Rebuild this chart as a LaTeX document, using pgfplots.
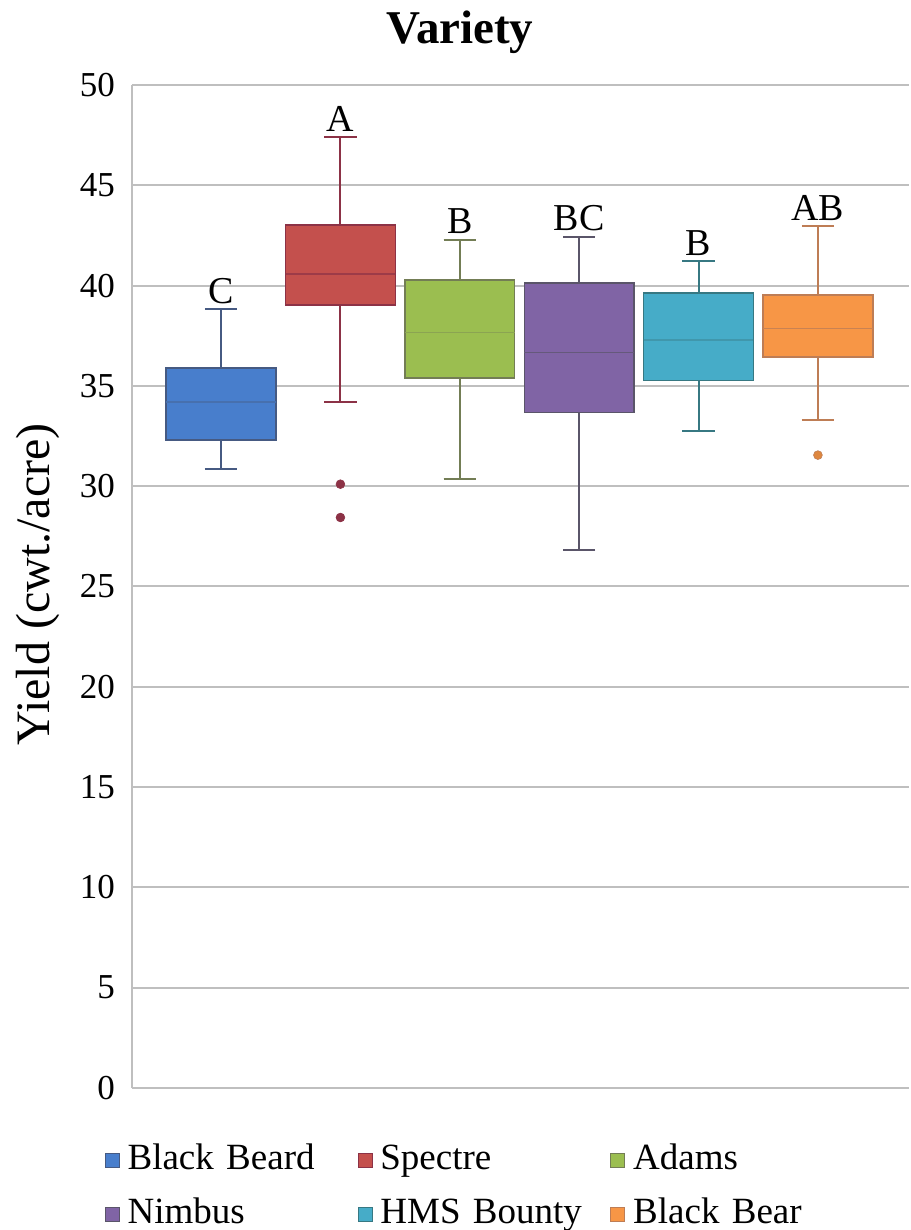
\documentclass[border=0pt]{standalone}
\usepackage{fontspec}
\setmainfont{Liberation Serif}
\usepackage{pgfplots}
\pgfplotsset{compat=1.18}
\usepgfplotslibrary{statistics}
\definecolor{cBB}{RGB}{72,126,204}\definecolor{cBBd}{RGB}{70,90,130}
\definecolor{cSP}{RGB}{196,80,77}\definecolor{cSPd}{RGB}{140,50,70}
\definecolor{cAD}{RGB}{155,190,80}\definecolor{cADd}{RGB}{115,125,85}
\definecolor{cNI}{RGB}{128,100,165}\definecolor{cNId}{RGB}{90,85,105}
\definecolor{cHM}{RGB}{70,172,200}\definecolor{cHMd}{RGB}{55,120,130}
\definecolor{cBR}{RGB}{247,150,70}\definecolor{cBRd}{RGB}{190,125,85}
\newcommand{\labfont}{\fontsize{19}{22}\selectfont}
\begin{document}
\begin{tikzpicture}
\begin{axis}[
  scale only axis, width=388.5pt, height=501.5pt,
  xmin=0.254, xmax=6.763, ymin=0, ymax=50,
  ytick={0,5,...,50}, xtick=\empty,
  axis lines*=left,
  axis line style={draw=gray!50, line width=1pt},
  ymajorgrids, grid style={draw=gray!50, line width=1pt},
  major tick length=0pt,
  tick label style={font=\fontsize{17.5}{20}\selectfont},
  yticklabel style={xshift=-5pt},
  /pgf/number format/assume math mode=true,
  title={Variety},
  title style={font=\bfseries\fontsize{23.5}{26}\selectfont, at={(0.422,1.029)}, anchor=base, inner sep=0pt},
  ylabel={Yield (cwt./acre)},
  ylabel style={font=\fontsize{24}{28}\selectfont, at={(-0.121,0.502)}, anchor=center, inner sep=0pt},
  legend columns=3,
  legend image code/.code={\draw[#1] (0pt,-3.5pt) rectangle (7pt,3.5pt);},
  legend style={at={(-0.035,-0.057)}, anchor=north west, draw=none, fill=none,
    inner sep=0pt, outer sep=0pt, row sep=12pt, column sep=0pt,
    font=\fontsize{18.5}{21}\selectfont,
    nodes={text width=111pt, inner xsep=4pt, inner ysep=0pt, text height=12pt, text depth=3pt, align=left}},
  boxplot/draw direction=y,
]
\addlegendimage{fill=cBB, draw=cBBd}\addlegendentry{Black Beard}
\addlegendimage{fill=cSP, draw=cSPd}\addlegendentry{Spectre}
\addlegendimage{fill=cAD, draw=cADd}\addlegendentry{Adams}
\addlegendimage{fill=cNI, draw=cNId}\addlegendentry{Nimbus}
\addlegendimage{fill=cHM, draw=cHMd}\addlegendentry{HMS Bounty}
\addlegendimage{fill=cBR, draw=cBRd}\addlegendentry{Black Bear}

\addplot+[forget plot, solid, fill=cBB, draw=cBBd, line width=0.75pt,
  boxplot/every whisker/.style={draw=cBBd, line width=1pt},
  boxplot/every median/.style={draw=cBBd!40!cBB, line width=0.6pt},
  boxplot prepared={draw position=1, box extend=0.92, whisker extend=0.27,
  lower whisker=30.87, lower quartile=32.3, median=34.2, upper quartile=35.88, upper whisker=38.82}]
  coordinates {};
\addplot+[forget plot, solid, fill=cSP, draw=cSPd, line width=0.75pt,
  boxplot/every whisker/.style={draw=cSPd, line width=1pt},
  boxplot/every median/.style={draw=cSPd!70!cSP, line width=0.6pt},
  mark=*, mark size=2.2pt, mark options={fill=cSPd, draw=cSPd, line width=0.3pt},
  boxplot prepared={draw position=2, box extend=0.92, whisker extend=0.27,
  lower whisker=34.18, lower quartile=39.04, median=40.58, upper quartile=43.03, upper whisker=47.39}]
  table[row sep=\\, y index=0] {30.1\\ 28.44\\};
\addplot+[forget plot, solid, fill=cAD, draw=cADd, line width=0.75pt,
  boxplot/every whisker/.style={draw=cADd, line width=1pt},
  boxplot/every median/.style={draw=cADd!40!cAD, line width=0.6pt},
  boxplot prepared={draw position=3, box extend=0.92, whisker extend=0.27,
  lower whisker=30.37, lower quartile=35.39, median=37.67, upper quartile=40.28, upper whisker=42.28}]
  coordinates {};
\addplot+[forget plot, solid, fill=cNI, draw=cNId, line width=0.75pt,
  boxplot/every whisker/.style={draw=cNId, line width=1pt},
  boxplot/every median/.style={draw=cNId!70!cNI, line width=0.6pt},
  boxplot prepared={draw position=4, box extend=0.92, whisker extend=0.27,
  lower whisker=26.8, lower quartile=33.67, median=36.66, upper quartile=40.12, upper whisker=42.43}]
  coordinates {};
\addplot+[forget plot, solid, fill=cHM, draw=cHMd, line width=0.75pt,
  boxplot/every whisker/.style={draw=cHMd, line width=1pt},
  boxplot/every median/.style={draw=cHMd!40!cHM, line width=0.6pt},
  boxplot prepared={draw position=5, box extend=0.92, whisker extend=0.27,
  lower whisker=32.73, lower quartile=35.26, median=37.29, upper quartile=39.64, upper whisker=41.22}]
  coordinates {};
\addplot+[forget plot, solid, fill=cBR, draw=cBRd, line width=0.75pt,
  boxplot/every whisker/.style={draw=cBRd, line width=1pt},
  boxplot/every median/.style={draw=cBRd!80!cBR, line width=0.6pt},
  mark=*, mark size=2.2pt, mark options={fill=cBR!90!black, draw=cBRd, line width=0.3pt},
  boxplot prepared={draw position=6, box extend=0.92, whisker extend=0.27,
  lower whisker=33.3, lower quartile=36.44, median=37.87, upper quartile=39.54, upper whisker=42.95}]
  table[row sep=\\, y index=0] {31.55\\};

\node[anchor=base, yshift=3pt, font=\labfont] at (axis cs:1,38.82) {C};
\node[anchor=base, yshift=3pt, font=\labfont] at (axis cs:2,47.39) {A};
\node[anchor=base, yshift=3pt, font=\labfont] at (axis cs:3,42.28) {B};
\node[anchor=base, yshift=3pt, font=\labfont] at (axis cs:4,42.43) {BC};
\node[anchor=base, yshift=3pt, font=\labfont] at (axis cs:5,41.22) {B};
\node[anchor=base, yshift=3pt, font=\labfont] at (axis cs:6,42.95) {AB};
\end{axis}
\path ([xshift=-66pt,yshift=-71pt]current axis.south west) rectangle ([xshift=0.5pt,yshift=42.5pt]current axis.north east);
\end{tikzpicture}
\end{document}
